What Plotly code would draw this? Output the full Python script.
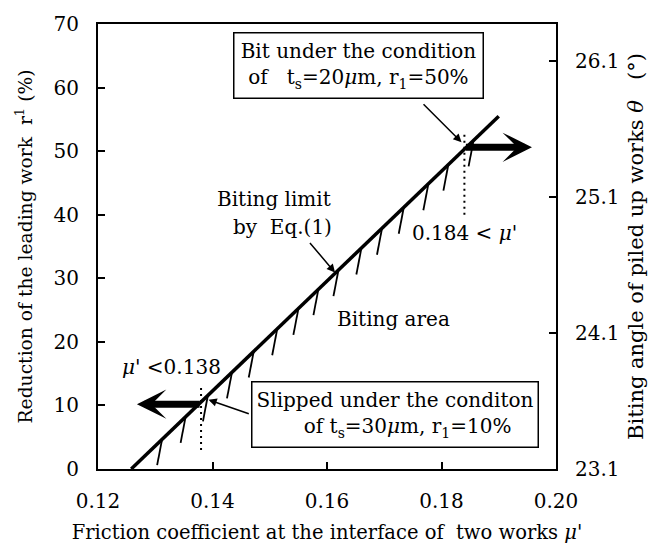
import plotly.graph_objects as go

# ---------------- data ----------------
# Biting limit by Eq.(1): reduction r1 (%) vs friction coefficient mu'
limit_mu = [0.1258, 0.1900]
limit_r = [0.0, 55.5]

# hatch marks (biting side) – start points on the limit line
hatch_mu = [0.1312, 0.1353, 0.1392, 0.1434, 0.1472, 0.1513, 0.1550, 0.1585,
            0.1620, 0.1660, 0.1696, 0.1734, 0.1777, 0.1812, 0.1856]
hatch_r = [4.7, 8.2, 11.6, 15.2, 18.5, 22.0, 25.2, 28.3,
           31.3, 34.7, 37.8, 41.1, 44.8, 47.9, 51.7]

# experimental conditions
slip_mu, slip_r = 0.138, 10.2          # slipped: ts=30um, r1=10%
bite_mu, bite_r = 0.184, 50.6          # bit: ts=20um, r1=50%
slip_arrow_tip = 0.1268
bite_arrow_tip = 0.1958
slip_dot_r = [3.0, 13.0]
bite_dot_r = [40.0, 52.6]

# axes
x_ticks = [0.12, 0.14, 0.16, 0.18, 0.20]
y_ticks = [0, 10, 20, 30, 40, 50, 60, 70]
theta_ticks = [23.1, 24.1, 25.1, 26.1]
theta_range = [23.1, 26.371]

# ---------------- style ----------------
FONT = "DejaVu Serif"
HATCH_DX = -0.00087
HATCH_DY = -4.1
BLACK = "#000000"

fig = go.Figure()

fig.add_trace(go.Scatter(x=limit_mu, y=limit_r, mode="lines",
                         line=dict(color=BLACK, width=3.5),
                         showlegend=False, hoverinfo="skip"))

hx, hy = [], []
for m, r in zip(hatch_mu, hatch_r):
    hx += [m, m + HATCH_DX, None]
    hy += [r, r + HATCH_DY, None]
fig.add_trace(go.Scatter(x=hx, y=hy, mode="lines",
                         line=dict(color=BLACK, width=1.8),
                         showlegend=False, hoverinfo="skip"))

for mu, rr in [(slip_mu, slip_dot_r), (bite_mu, bite_dot_r)]:
    fig.add_trace(go.Scatter(x=[mu, mu], y=rr, mode="lines",
                             line=dict(color=BLACK, width=2, dash="2px,4px"),
                             showlegend=False, hoverinfo="skip"))

# invisible trace on the right axis
fig.add_trace(go.Scatter(x=[None], y=[None], yaxis="y2", showlegend=False))

# thick arrows
for tip, tail, r in [(slip_arrow_tip, slip_mu, slip_r), (bite_arrow_tip, bite_mu, bite_r)]:
    fig.add_annotation(x=tip, y=r, ax=tail, ay=r, xref="x", yref="y",
                       axref="x", ayref="y", text="", showarrow=True,
                       arrowhead=3, arrowwidth=7, arrowsize=0.7,
                       arrowcolor=BLACK)

# thin callout arrows
callouts = [
    ((0.1766, 57.6), (0.1835, 51.4)),
    ((0.1466, 8.6), (0.1393, 10.9)),
    ((0.1568, 35.8), (0.1614, 30.9)),
]
for (tx, ty), (hx_, hy_) in callouts:
    fig.add_annotation(x=hx_, y=hy_, ax=tx, ay=ty, xref="x", yref="y",
                       axref="x", ayref="y", text="", showarrow=True,
                       arrowhead=2, arrowwidth=1.5, arrowsize=1.1,
                       arrowcolor=BLACK)

tfont = dict(family=FONT, size=20, color=BLACK)
nb = "\u00a0"

# boxed labels
fig.add_annotation(x=0.1655, y=63.4, xref="x", yref="y", showarrow=False,
                   text="Bit under the condition<br>of" + nb * 3 +
                        "t<sub>s</sub>=20<i>μ</i>m, r<sub>1</sub>=50%",
                   font=tfont, align="center", bordercolor=BLACK,
                   borderwidth=1.5, borderpad=2, bgcolor="white",
                   width=244, height=60)
fig.add_annotation(x=0.1718, y=8.55, xref="x", yref="y", showarrow=False,
                   text="Slipped under the conditon<br>" + nb * 4 +
                        "of t<sub>s</sub>=30<i>μ</i>m, r<sub>1</sub>=10%",
                   font=tfont, align="center", bordercolor=BLACK,
                   borderwidth=1.5, borderpad=2, bgcolor="white",
                   width=281, height=60)

# free labels
fig.add_annotation(x=0.1405, y=42.5, xref="x", yref="y", showarrow=False,
                   xanchor="left", text="Biting limit", font=tfont)
fig.add_annotation(x=0.1433, y=38.1, xref="x", yref="y", showarrow=False,
                   xanchor="left", text="by" + nb * 2 + "Eq.(1)", font=tfont)
fig.add_annotation(x=0.1717, y=23.6, xref="x", yref="y", showarrow=False,
                   text="Biting area", font=tfont)
fig.add_annotation(x=0.1841, y=37.2, xref="x", yref="y", showarrow=False,
                   text="0.184 &lt; <i>μ</i>'", font=tfont)
fig.add_annotation(x=0.1328, y=16.1, xref="x", yref="y", showarrow=False,
                   text="<i>μ</i>' &lt;0.138", font=tfont)

axis_common = dict(showline=True, linecolor=BLACK, linewidth=2,
                   ticks="inside", ticklen=7, tickwidth=1.5, tickcolor=BLACK,
                   showgrid=False, zeroline=False,
                   tickfont=dict(family=FONT, size=20, color=BLACK))

fig.update_layout(
    width=658, height=552,
    margin=dict(l=98, r=102, t=13, b=79),
    paper_bgcolor="white", plot_bgcolor="white",
    showlegend=False,
    xaxis=dict(range=[0.12, 0.20], tickvals=x_ticks, tickformat=".2f",
               mirror=True, ticklabelstandoff=13,
               title=dict(text="Friction coefficient at the interface of" + nb +
                               " two works <i>μ</i>'",
                          font=dict(family=FONT, size=19.5, color=BLACK),
                          standoff=13),
               **axis_common),
    yaxis=dict(range=[0, 70], tickvals=y_ticks, ticklabelstandoff=13,
               title=dict(text="Reduction of the leading work" + nb +
                               " r<sup>1</sup> (%)",
                          font=dict(family=FONT, size=18.7, color=BLACK),
                          standoff=16),
               **axis_common),
    yaxis2=dict(range=theta_range, tickvals=theta_ticks, tickformat=".1f",
                overlaying="y", side="right", ticklabelstandoff=13,
                title=dict(text="Biting angle of piled up works <i>θ</i>" + nb * 3 +
                                "(°)",
                           font=dict(family=FONT, size=21, color=BLACK),
                           standoff=10),
                **axis_common),
)

fig.write_html("out.html")
